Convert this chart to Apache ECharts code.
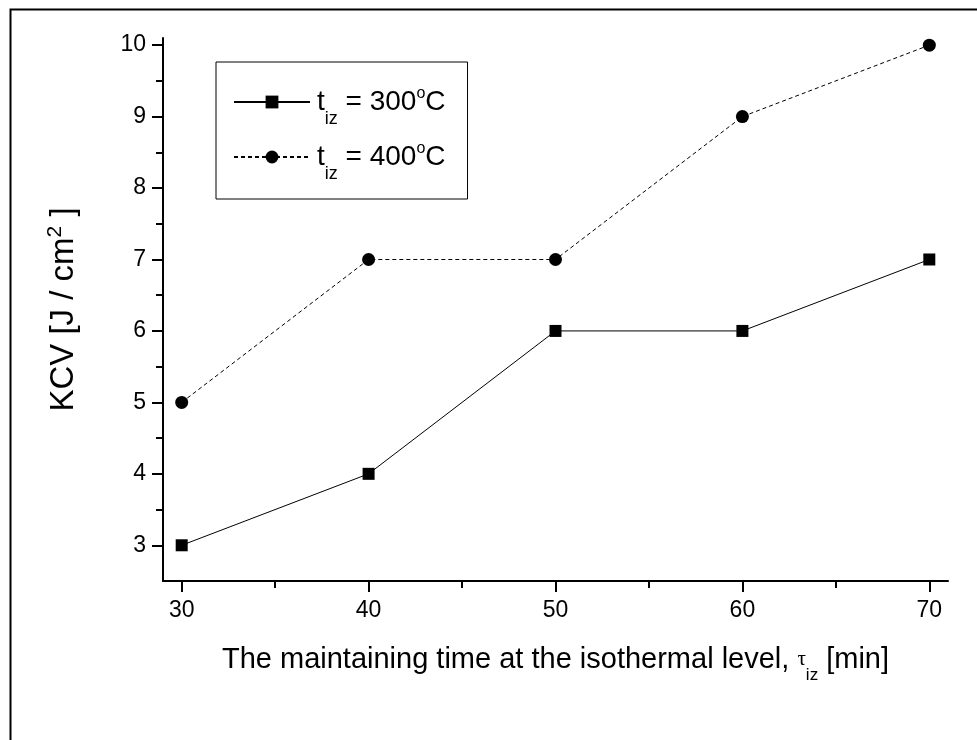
<!DOCTYPE html>
<html>
<head>
<meta charset="utf-8">
<script src="https://cdn.jsdelivr.net/npm/echarts@6/dist/echarts.min.js"></script>
<style>
  html, body { margin: 0; padding: 0; background: #fff; }
  #chart { width: 977px; height: 740px; }
</style>
</head>
<body>
<div id="chart"></div>
<script>
// x 值（分钟）
const timeValues = [30, 40, 50, 60, 70];
// 两条曲线
const kcv300 = [3, 4, 6, 6, 7];
const kcv400 = [5, 7, 7, 9, 10];
// 刻度
const xMajorTicks = [30, 40, 50, 60, 70];
const xMinorTicks = [35, 45, 55, 65];
const yMajorTicks = [3, 4, 5, 6, 7, 8, 9, 10];
const yMinorTicks = [3.5, 4.5, 5.5, 6.5, 7.5, 8.5, 9.5];

const FONT = "'Liberation Sans', Arial, sans-serif";

function pairs(ys) {
  return timeValues.map((x, i) => [x, ys[i]]);
}

const chart = echarts.init(document.getElementById("chart"));

const legendRich = {
  t: { fontSize: 28, fontFamily: FONT, color: "#000", lineHeight: 32 },
  sub: { fontSize: 18, fontFamily: FONT, color: "#000", lineHeight: 18, verticalAlign: "bottom", padding: [0, 0, -10, 0] },
  sup: { fontSize: 16, fontFamily: FONT, color: "#000", lineHeight: 16, verticalAlign: "top" }
};

chart.setOption({
  animation: false,
  backgroundColor: "#fff",
  graphic: [
    {
      // 外框
      type: "rect",
      left: 8,
      top: 7,
      shape: { width: 1000, height: 800 },
      style: { fill: "none", stroke: "#000", lineWidth: 2 },
      silent: true
    }
  ],
  grid: {
    left: 163,
    right: 29,
    top: 38,
    bottom: 159
  },
  legend: {
    orient: "vertical",
    left: 216,
    top: 62,
    padding: [24, 22, 16, 17],
    itemGap: 13,
    itemWidth: 76,
    itemHeight: 16,
    borderColor: "#000",
    borderWidth: 1,
    formatter: function (name) {
      return name === "300"
        ? "{t|t}{sub|iz}{t| = 300}{sup|o}{t|C}"
        : "{t|t}{sub|iz}{t| = 400}{sup|o}{t|C}";
    },
    textStyle: { rich: legendRich, padding: [0, 0, 0, 2] },
    data: ["300", "400"]
  },
  xAxis: [
    {
      type: "value",
      min: 29,
      max: 71,
      position: "bottom",
      name: "The maintaining time at the isothermal level, {tau|τ}{sub|iz} [min]",
      nameLocation: "middle",
      nameGap: 64,
      nameTextStyle: {
        fontSize: 29,
        fontFamily: FONT,
        color: "#000",
        rich: {
          tau: { fontSize: 21, fontFamily: "'Liberation Serif', serif", color: "#000" },
          sub: { fontSize: 17, fontFamily: FONT, color: "#000", verticalAlign: "bottom", padding: [0, 0, -10, 0] }
        }
      },
      axisLine: { lineStyle: { color: "#000", width: 2 } },
      axisTick: { customValues: xMajorTicks, length: 11, lineStyle: { color: "#000", width: 2 } },
      axisLabel: { customValues: xMajorTicks, margin: 18, fontSize: 23, fontFamily: FONT, color: "#000" },
      splitLine: { show: false }
    },
    {
      type: "value",
      min: 29,
      max: 71,
      position: "bottom",
      axisLine: { show: false },
      axisTick: { customValues: xMinorTicks, length: 7, lineStyle: { color: "#000", width: 2 } },
      axisLabel: { show: false },
      splitLine: { show: false }
    }
  ],
  yAxis: [
    {
      type: "value",
      min: 2.5,
      max: 10.1,
      position: "left",
      name: "{n|KCV [J / cm}{sup|2}{n| ]}",
      nameLocation: "middle",
      nameGap: 80,
      nameRotate: 90,
      nameTextStyle: {
        fontSize: 33,
        fontFamily: FONT,
        color: "#000",
        rich: {
          n: { fontSize: 33, fontFamily: FONT, color: "#000", lineHeight: 38 },
          sup: { fontSize: 21, fontFamily: FONT, color: "#000", verticalAlign: "top", lineHeight: 21 }
        }
      },
      axisLine: { show: true, lineStyle: { color: "#000", width: 2 } },
      axisTick: { customValues: yMajorTicks, length: 11, lineStyle: { color: "#000", width: 2 } },
      axisLabel: { customValues: yMajorTicks, margin: 17, fontSize: 23, fontFamily: FONT, color: "#000" },
      splitLine: { show: false }
    },
    {
      type: "value",
      min: 2.5,
      max: 10.1,
      position: "left",
      axisLine: { show: false },
      axisTick: { customValues: yMinorTicks, length: 7, lineStyle: { color: "#000", width: 2 } },
      axisLabel: { show: false },
      splitLine: { show: false }
    }
  ],
  series: [
    {
      name: "300",
      type: "line",
      data: pairs(kcv300),
      symbol: "rect",
      symbolSize: 12,
      itemStyle: { color: "#000" },
      lineStyle: { color: "#000", width: 1, type: "solid" }
    },
    {
      name: "400",
      type: "line",
      data: pairs(kcv400),
      symbol: "circle",
      symbolSize: 13,
      itemStyle: { color: "#000" },
      lineStyle: { color: "#000", width: 1, type: [4, 3] }
    }
  ]
});
</script>
</body>
</html>
